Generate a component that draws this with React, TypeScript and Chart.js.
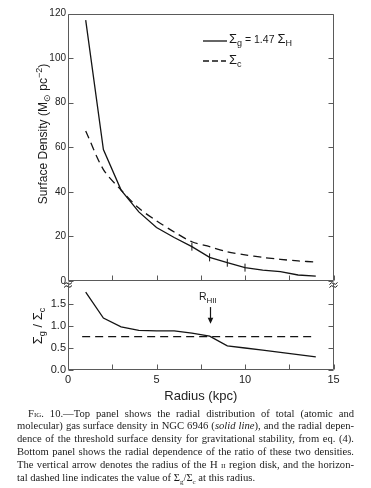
import React, { useEffect, useRef } from "react";
import { Chart, registerables } from "chart.js";

Chart.register(...registerables);

// ---- data ----
const radius = [1, 2, 3, 4, 5, 6, 7, 8, 9, 10, 11, 12, 13, 14];
const sigmaGas = [117, 59, 40.8, 31, 24, 19.5, 15.4, 10.6, 8.2, 6.0, 4.9, 4.2, 2.7, 2.2];
const sigmaCrit = [67.3, 50, 40.8, 32.7, 27, 22, 17.6, 15.4, 13.1, 11.7, 10.6, 9.7, 9.0, 8.5];
const ratio = [1.77, 1.18, 0.98, 0.9, 0.89, 0.89, 0.84, 0.77, 0.55, 0.5, 0.45, 0.4, 0.35, 0.3];
const thresholdRadius = [0.8, 14];
const thresholdRatio = [0.76, 0.76];
const markedRadii = [7, 8, 9, 10];
const arrowRadius = 8;
const arrowFrom = 1.43;
const arrowTo = 1.05;
const topTickValues = [0, 20, 40, 60, 80, 100, 120];
const bottomTickValues = [0, 0.5, 1.0, 1.5];
const xMinorTicks = [0, 2.5, 5, 7.5, 10, 12.5, 15];

const INK = "#141414";
const FRAME = "#5a5a5a";
const AXIS_FONT = "'Liberation Sans', Arial, sans-serif";

function makeFramePlugin(yTicks: number[], withBreaks: boolean, drawTop: boolean) {
  return {
    id: "frame",
    afterDraw(chart: any) {
      const { ctx, chartArea: a, scales } = chart;
      const xs = scales.x;
      const ys = scales.y;
      ctx.save();
      ctx.strokeStyle = FRAME;
      ctx.lineWidth = 1;
      const L = Math.round(a.left) + 0.5;
      const R = Math.round(a.right) - 0.5;
      const T = Math.round(a.top) + 0.5;
      const B = Math.round(a.bottom) - 0.5;
      ctx.beginPath();
      if (drawTop) {
        ctx.moveTo(L, T);
        ctx.lineTo(R, T);
      }
      ctx.moveTo(L, T);
      ctx.lineTo(L, B);
      ctx.lineTo(R, B);
      ctx.lineTo(R, T);
      ctx.stroke();
      ctx.beginPath();
      for (const v of yTicks) {
        const py = Math.round(ys.getPixelForValue(v)) + 0.5;
        ctx.moveTo(L, py);
        ctx.lineTo(L + 5, py);
        ctx.moveTo(R, py);
        ctx.lineTo(R - 5, py);
      }
      for (const v of xMinorTicks) {
        const px = Math.round(xs.getPixelForValue(v)) + 0.5;
        ctx.moveTo(px, B);
        ctx.lineTo(px, B - 5);
      }
      ctx.stroke();
      if (withBreaks) {
        ctx.strokeStyle = INK;
        ctx.lineWidth = 1;
        for (const bx of [a.left, a.right]) {
          for (const dy of [2.5, 5.5]) {
            const by = a.bottom + dy;
            ctx.beginPath();
            ctx.moveTo(bx - 4, by + 1);
            ctx.quadraticCurveTo(bx - 2, by - 2, bx, by);
            ctx.quadraticCurveTo(bx + 2, by + 2, bx + 4, by - 1);
            ctx.stroke();
          }
        }
      }
      ctx.restore();
    },
  };
}

const arrowPlugin = {
  id: "arrow",
  afterDatasetsDraw(chart: any) {
    const { ctx, scales } = chart;
    const x = Math.round(scales.x.getPixelForValue(arrowRadius)) + 0.5;
    const y1 = scales.y.getPixelForValue(arrowFrom);
    const y2 = scales.y.getPixelForValue(arrowTo);
    ctx.save();
    ctx.strokeStyle = INK;
    ctx.fillStyle = INK;
    ctx.lineWidth = 1.2;
    ctx.beginPath();
    ctx.moveTo(x, y1);
    ctx.lineTo(x, y2 - 4);
    ctx.stroke();
    ctx.beginPath();
    ctx.moveTo(x - 2.8, y2 - 6);
    ctx.lineTo(x + 2.8, y2 - 6);
    ctx.lineTo(x, y2);
    ctx.closePath();
    ctx.fill();
    ctx.restore();
  },
};

function TopChart() {
  const ref = useRef<HTMLCanvasElement>(null);
  useEffect(() => {
    const chart = new Chart(ref.current!, {
      type: "line",
      data: {
        datasets: [
          {
            data: radius.map((r, i) => ({ x: r, y: sigmaGas[i] })),
            borderColor: INK,
            borderWidth: 1.3,
            tension: 0,
            pointStyle: "line",
            rotation: 90,
            pointRadius: (c: any) => (markedRadii.includes(radius[c.dataIndex]) ? 4 : 0),
            pointBorderColor: INK,
            pointBorderWidth: 1,
          },
          {
            data: radius.map((r, i) => ({ x: r, y: sigmaCrit[i] })),
            borderColor: INK,
            borderWidth: 1.3,
            borderDash: [8, 5],
            tension: 0.3,
            pointRadius: 0,
          },
        ],
      } as any,
      options: {
        animation: false,
        responsive: false,
        maintainAspectRatio: false,
        layout: { padding: { top: 13.5, right: 37.5, bottom: 9, left: 0 } },
        plugins: { legend: { display: false }, tooltip: { enabled: false } },
        scales: {
          x: { type: "linear", min: 0, max: 15, display: false },
          y: {
            min: 0,
            max: 120,
            afterFit: (s: any) => {
              s.width = 68;
            },
            grid: { display: false, drawTicks: false },
            border: { display: false },
            ticks: {
              stepSize: 20,
              padding: 2,
              color: "#222",
              font: { family: AXIS_FONT, size: 10 },
            },
          },
        },
      } as any,
      plugins: [makeFramePlugin(topTickValues, true, true)],
    });
    return () => chart.destroy();
  }, []);
  return (
    <canvas
      ref={ref}
      width={371}
      height={290}
      style={{ position: "absolute", left: 0, top: 0, width: 371, height: 290 }}
    />
  );
}

function BottomChart() {
  const ref = useRef<HTMLCanvasElement>(null);
  useEffect(() => {
    const chart = new Chart(ref.current!, {
      type: "line",
      data: {
        datasets: [
          {
            data: radius.map((r, i) => ({ x: r, y: ratio[i] })),
            borderColor: INK,
            borderWidth: 1.3,
            tension: 0,
            pointRadius: 0,
          },
          {
            data: thresholdRadius.map((r, i) => ({ x: r, y: thresholdRatio[i] })),
            borderColor: INK,
            borderWidth: 1.3,
            borderDash: [8, 5],
            pointRadius: 0,
          },
        ],
      } as any,
      options: {
        animation: false,
        responsive: false,
        maintainAspectRatio: false,
        layout: { padding: { top: 12, right: 37.5, bottom: 0, left: 0 } },
        plugins: { legend: { display: false }, tooltip: { enabled: false } },
        scales: {
          x: {
            type: "linear",
            min: 0,
            max: 15,
            afterFit: (s: any) => {
              s.height = 40;
            },
            grid: { display: false, drawTicks: false },
            border: { display: false },
            ticks: {
              stepSize: 5,
              padding: 3,
              color: "#222",
              font: { family: AXIS_FONT, size: 11 },
            },
            title: {
              display: true,
              text: "Radius (kpc)",
              color: "#222",
              font: { family: AXIS_FONT, size: 13 },
              padding: { top: 0, bottom: 6 },
            },
          },
          y: {
            min: 0,
            max: 2,
            afterFit: (s: any) => {
              s.width = 68;
            },
            grid: { display: false, drawTicks: false },
            border: { display: false },
            ticks: {
              stepSize: 0.5,
              padding: 2,
              color: "#222",
              font: { family: AXIS_FONT, size: 11 },
              callback: (v: any) => (v >= 2 ? "" : Number(v).toFixed(1)),
            },
          },
        },
      } as any,
      plugins: [makeFramePlugin(bottomTickValues, false, false), arrowPlugin],
    });
    return () => chart.destroy();
  }, []);
  return (
    <canvas
      ref={ref}
      width={371}
      height={140}
      style={{ position: "absolute", left: 0, top: 270, width: 371, height: 140 }}
    />
  );
}

const serif = "'Liberation Serif', 'Times New Roman', serif";

function CaptionLine({ children, last, indent }: any) {
  return (
    <div
      style={{
        height: 12.8,
        lineHeight: "12.8px",
        whiteSpace: "nowrap",
        textAlign: "justify",
        textAlignLast: last ? "left" : "justify",
        paddingLeft: indent ? 11 : 0,
      }}
    >
      {children}
    </div>
  );
}

export default function App() {
  return (
    <div
      style={{
        position: "absolute",
        left: 0,
        top: 0,
        width: 371,
        height: 488,
        background: "#fff",
        overflow: "hidden",
        fontFamily: AXIS_FONT,
        color: "#1a1a1a",
      }}
    >
      <TopChart />
      <BottomChart />

      {/* legend */}
      <svg width={371} height={80} style={{ position: "absolute", left: 0, top: 0 }}>
        <line x1={203} y1={41} x2={227} y2={41} stroke={INK} strokeWidth={1.3} />
        <line x1={203} y1={61} x2={226} y2={61} stroke={INK} strokeWidth={1.3} strokeDasharray="6 3" />
      </svg>
      <div style={{ position: "absolute", left: 229, top: 32, fontSize: 10.5, whiteSpace: "nowrap", lineHeight: "14px" }}>
        <span style={{ fontSize: 13 }}>Σ</span>
        <sub style={{ fontSize: 9 }}>g</sub>
        <span> = 1.47 </span>
        <span style={{ fontSize: 13 }}>Σ</span>
        <sub style={{ fontSize: 9 }}>H</sub>
      </div>
      <div style={{ position: "absolute", left: 229, top: 53, fontSize: 10.5, whiteSpace: "nowrap", lineHeight: "14px" }}>
        <span style={{ fontSize: 13 }}>Σ</span>
        <sub style={{ fontSize: 9 }}>c</sub>
      </div>

      {/* top y title */}
      <div
        style={{
          position: "absolute",
          left: 43,
          top: 134,
          transform: "translate(-50%, -50%) rotate(-90deg)",
          fontSize: 12,
          whiteSpace: "nowrap",
          lineHeight: "14px",
        }}
      >
        Surface Density (M<sub style={{ fontSize: 9 }}>⊙</sub> pc<sup style={{ fontSize: 9 }}>−2</sup>)
      </div>

      {/* bottom y title */}
      <div
        style={{
          position: "absolute",
          left: 40,
          top: 326,
          transform: "translate(-50%, -50%) rotate(-90deg)",
          fontSize: 13,
          whiteSpace: "nowrap",
          lineHeight: "14px",
        }}
      >
        Σ<sub style={{ fontSize: 9 }}>g</sub> / Σ<sub style={{ fontSize: 9 }}>c</sub>
      </div>

      {/* R_HII label */}
      <div style={{ position: "absolute", left: 199, top: 290, fontSize: 10.5, whiteSpace: "nowrap", lineHeight: "12px" }}>
        R<sub style={{ fontSize: 8 }}>HII</sub>
      </div>

      {/* caption */}
      <div
        style={{
          position: "absolute",
          left: 17,
          top: 407.6,
          width: 337,
          fontFamily: serif,
          fontSize: 10.6,
          color: "#1a1a1a",
        }}
      >
        <CaptionLine indent>
          <span style={{ fontVariant: "small-caps" }}>Fig.</span> 10.—Top panel shows the radial distribution of total (atomic and
        </CaptionLine>
        <CaptionLine>
          molecular) gas surface density in NGC 6946 (<i>solid line</i>), and the radial depen-
        </CaptionLine>
        <CaptionLine>dence of the threshold surface density for gravitational stability, from eq. (4).</CaptionLine>
        <CaptionLine>Bottom panel shows the radial dependence of the ratio of these two densities.</CaptionLine>
        <CaptionLine>
          The vertical arrow denotes the radius of the H <span style={{ fontVariant: "small-caps" }}>ii</span> region disk, and the horizon-
        </CaptionLine>
        <CaptionLine last>
          tal dashed line indicates the value of Σ<sub style={{ fontSize: 7 }}>g</sub>/Σ<sub style={{ fontSize: 7 }}>c</sub> at this radius.
        </CaptionLine>
      </div>
    </div>
  );
}
